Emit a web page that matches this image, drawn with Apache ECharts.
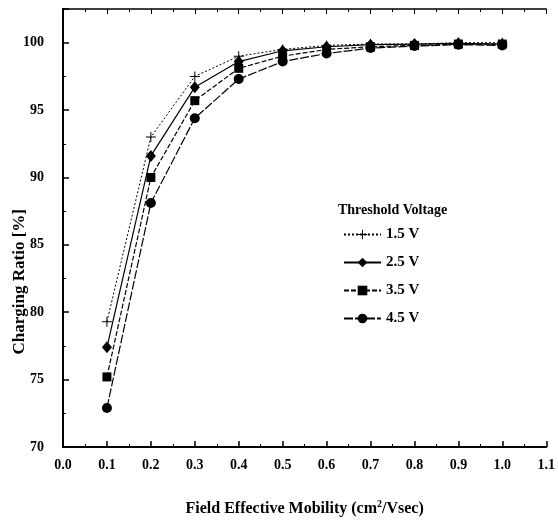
<!DOCTYPE html>
<html>
<head>
<meta charset="utf-8">
<script src="https://cdn.jsdelivr.net/npm/echarts@6/dist/echarts.min.js"></script>
<style>
	html, body { margin: 0; padding: 0; background: #fff; }
	#chart { width: 558px; height: 522px; }
</style>
</head>
<body>
<div id="chart"></div>
<script>
// values
var mobility = [0.1, 0.2, 0.3, 0.4, 0.5, 0.6, 0.7, 0.8, 0.9, 1.0];
var seriesNames = ['1.5 V', '2.5 V', '3.5 V', '4.5 V'];
var v15 = [79.3, 93.0, 97.5, 99.0, 99.5, 99.8, 99.9, 99.9, 100.0, 100.0];
var v25 = [77.4, 91.6, 96.7, 98.6, 99.4, 99.7, 99.85, 99.9, 99.95, 99.9];
var v35 = [75.2, 90.0, 95.7, 98.1, 99.0, 99.5, 99.7, 99.8, 99.9, 99.9];
var v45 = [72.9, 88.1, 94.4, 97.3, 98.6, 99.2, 99.6, 99.75, 99.85, 99.8];
var yTicks = [70, 75, 80, 85, 90, 95, 100];

var font = '"Liberation Serif", "DejaVu Serif", serif';
var plus = 'path://M4.5,0h1v4.5h4.5v1h-4.5v4.5h-1v-4.5h-4.5v-1h4.5z';

function pairs(ys) {
	var out = [];
	for (var i = 0; i < mobility.length; i++) {
		out.push([mobility[i], ys[i]]);
	}
	return out;
}

function line(name, ys, symbol, size, type, width) {
	return {
		name : name,
		type : 'line',
		data : pairs(ys),
		symbol : symbol,
		symbolSize : size,
		showAllSymbol : true,
		itemStyle : { color : '#000' },
		lineStyle : { color : '#000', width : width, type : type },
		emphasis : { disabled : true },
		animation : false
	};
}

var myChart = echarts.init(document.getElementById('chart'));
var option = {
	backgroundColor : '#fff',
	grid : { left : 63, right : 10, top : 9, bottom : 73 },
	title : {
		text : 'Threshold Voltage',
		left : 333, top : 198,
		textStyle : { fontFamily : font, fontWeight : 'bold', fontSize : 14, color : '#000' }
	},
	legend : {
		orient : 'vertical',
		left : 338, top : 222,
		itemWidth : 37, itemHeight : 12,
		itemGap : 13,
		data : seriesNames,
		textStyle : { fontFamily : font, fontWeight : 'bold', fontSize : 15, color : '#000' }
	},
	xAxis : [ {
		type : 'value',
		min : 0, max : 1.1, interval : 0.1,
		name : 'Field Effective Mobility (cm{s|2}/Vsec)',
		nameLocation : 'middle',
		nameGap : 52,
		nameTextStyle : {
			fontFamily : font, fontWeight : 'bold', fontSize : 16, color : '#000',
			rich : { s : { fontFamily : font, fontWeight : 'bold', fontSize : 10, verticalAlign : 'top', padding : [0, 0, 10, 0] } }
		},
		axisLine : { lineStyle : { color : '#000', width : 2 } },
		axisTick : { inside : true, length : 6, lineStyle : { color : '#000', width : 1.5 } },
		minorTick : { show : true, splitNumber : 2, length : 3, lineStyle : { color : '#000' } },
		splitLine : { show : false },
		axisLabel : {
			margin : 11, fontFamily : font, fontWeight : 'bold', fontSize : 14, color : '#000',
			formatter : function(v) { return v.toFixed(1); }
		}
	}, {
		type : 'value',
		position : 'top',
		min : 0, max : 1.1, interval : 0.1,
		axisLine : { lineStyle : { color : '#000', width : 1.5 } },
		axisTick : { inside : true, length : 5, lineStyle : { color : '#000' } },
		minorTick : { show : true, splitNumber : 2, length : 3, lineStyle : { color : '#000' } },
		splitLine : { show : false },
		axisLabel : { show : false }
	} ],
	yAxis : [ {
		type : 'value',
		min : 70, max : 102.5, interval : 5,
		axisLine : { lineStyle : { color : '#000', width : 2 } },
		axisTick : { inside : true, length : 6, lineStyle : { color : '#000', width : 1.5 } },
		minorTick : { show : true, splitNumber : 2, length : 3, lineStyle : { color : '#000' } },
		splitLine : { show : false },
		axisLabel : {
			margin : 19, fontFamily : font, fontWeight : 'bold', fontSize : 14, color : '#000',
			formatter : function(v) { return yTicks.indexOf(v) >= 0 ? String(v) : ''; }
		}
	}, {
		type : 'value',
		position : 'right',
		min : 70, max : 102.5,
		axisLine : { show : true, lineStyle : { color : '#000', width : 2 } },
		axisTick : { show : false },
		splitLine : { show : false },
		axisLabel : { show : false }
	} ],
	graphic : [ {
		type : 'text',
		left : 11, top : 209,
		rotation : Math.PI / 2,
		style : {
			text : 'Charging Ratio [%]',
			font : 'bold 17px ' + font,
			fill : '#000'
		}
	} ],
	series : [
		line(seriesNames[0], v15, plus, 10, [2, 2], 1),
		line(seriesNames[1], v25, 'diamond', [10, 12], 'solid', 1.2),
		line(seriesNames[2], v35, 'rect', 9, [5, 2], 1.2),
		line(seriesNames[3], v45, 'circle', 10, [9, 2], 1.2)
	]
};
myChart.setOption(option);
</script>
</body>
</html>
